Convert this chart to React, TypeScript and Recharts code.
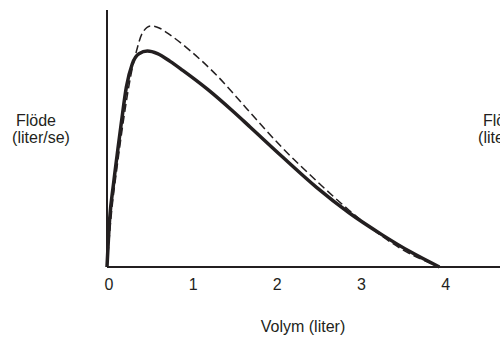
import { LineChart, Line, XAxis, YAxis, Customized } from 'recharts';

// volume (liter) / flow (liter/s) pairs
const solidVolume = [0, 0.03, 0.08, 0.13, 0.17, 0.23, 0.3, 0.38, 0.48, 0.6, 0.75, 0.9, 1.2, 1.5, 1.7, 2.08, 2.49, 2.88, 3.27, 3.6, 3.95];
const solidFlow = [0, 1.8, 3.3, 4.6, 5.6, 7.0, 7.9, 8.3, 8.4, 8.3, 8.0, 7.65, 6.9, 6.05, 5.45, 4.3, 3.1, 2.1, 1.25, 0.6, 0];

const dashedVolume = [0, 0.05, 0.12, 0.2, 0.28, 0.35, 0.42, 0.52, 0.62, 0.7, 0.98, 1.3, 1.65, 2.08, 2.49, 2.88, 3.2, 3.5, 3.95];
const dashedFlow = [0, 2.0, 3.9, 5.8, 7.4, 8.4, 9.1, 9.38, 9.3, 9.14, 8.44, 7.47, 6.2, 4.65, 3.35, 2.2, 1.36, 0.7, 0];

const xTicks = [0, 1, 2, 3, 4];
const xLabel = 'Volym (liter)';
const yLabel = ['Flöde', '(liter/se)'];

const solid = solidVolume.map((v, i) => ({ v, f: solidFlow[i] }));
const dashed = dashedVolume.map((v, i) => ({ v, f: dashedFlow[i] }));

const font = '"Liberation Sans", Arial, sans-serif';
const ink = '#231f20';

// axis titles; the right copy is cut by the image edge as in the original
const Labels = () => (
  <g fontFamily={font} fontSize={16} fill={ink}>
    <text x={36} y={126} textAnchor="middle">{yLabel[0]}</text>
    <text x={41} y={143} textAnchor="middle">{yLabel[1]}</text>
    <text x={503} y={126} textAnchor="middle">{yLabel[0]}</text>
    <text x={507} y={143} textAnchor="middle">{yLabel[1]}</text>
    <text x={303} y={332} textAnchor="middle">{xLabel}</text>
  </g>
);

export default function App() {
  return (
    <div style={{ position: 'absolute', left: 0, top: 0, background: '#fff' }}>
      <LineChart width={500} height={338} margin={{ top: 10, right: 0, bottom: 0, left: 106 }}>
        <XAxis
          type="number"
          dataKey="v"
          domain={[0, 4.67]}
          ticks={xTicks}
          tickLine={false}
          axisLine={{ stroke: ink, strokeWidth: 2 }}
          tick={{ fill: ink, fontSize: 16, fontFamily: font, dx: 2 }}
          tickMargin={6}
          height={71}
        />
        <YAxis
          type="number"
          dataKey="f"
          domain={[0, 10]}
          tick={false}
          tickLine={false}
          axisLine={{ stroke: ink, strokeWidth: 2 }}
          width={1}
        />
        <Line
          data={dashed}
          dataKey="f"
          type="monotone"
          stroke={ink}
          strokeWidth={1.5}
          strokeDasharray="8 4"
          dot={false}
          isAnimationActive={false}
        />
        <Line
          data={solid}
          dataKey="f"
          type="monotone"
          stroke={ink}
          strokeWidth={3.5}
          dot={false}
          isAnimationActive={false}
        />
        <Customized component={Labels} />
      </LineChart>
    </div>
  );
}
